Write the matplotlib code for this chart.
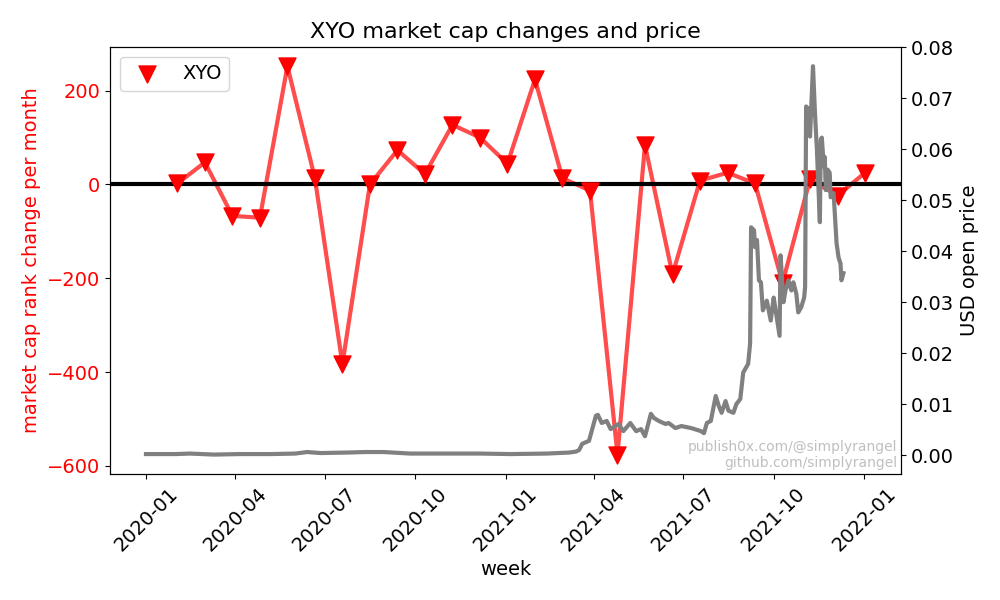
import pandas as pd
import matplotlib.pyplot as plt

# monthly (every 4 weeks) market cap rank change
rank_weeks = pd.date_range('2020-02-02', periods=26, freq='28D')
rank_change = [2, 47, -67, -71, 252, 13, -383, 0, 73, 22, 127, 100, 44,
               224, 13, -13, -576, 84, -192, 8, 25, 2, -210, 11, -24, 25]

# USD open price
price_dates = [
    '2020-01-01', '2020-01-31', '2020-02-15', '2020-03-10', '2020-04-06',
    '2020-05-07', '2020-06-01', '2020-06-13', '2020-06-27', '2020-07-24',
    '2020-08-11', '2020-08-30', '2020-09-26', '2020-10-26', '2020-12-06',
    '2021-01-06', '2021-02-12', '2021-03-07', '2021-03-14', '2021-03-17',
    '2021-03-20', '2021-03-27', '2021-04-03', '2021-04-05', '2021-04-09',
    '2021-04-14', '2021-04-18', '2021-04-26', '2021-05-01', '2021-05-08',
    '2021-05-14', '2021-05-19', '2021-05-23', '2021-05-29', '2021-06-01',
    '2021-06-06', '2021-06-13', '2021-06-16', '2021-06-23', '2021-06-29',
    '2021-07-09', '2021-07-19', '2021-07-22', '2021-07-25', '2021-07-29',
    '2021-08-03', '2021-08-06', '2021-08-09', '2021-08-13', '2021-08-16',
    '2021-08-21', '2021-08-24', '2021-08-28', '2021-08-31', '2021-09-05',
    '2021-09-07', '2021-09-08', '2021-09-11', '2021-09-12', '2021-09-14',
    '2021-09-16', '2021-09-18', '2021-09-20', '2021-09-24', '2021-09-28',
    '2021-10-01', '2021-10-03', '2021-10-07', '2021-10-08', '2021-10-11',
    '2021-10-13', '2021-10-16', '2021-10-19', '2021-10-21', '2021-10-24',
    '2021-10-26', '2021-10-29', '2021-11-01', '2021-11-02', '2021-11-03',
    '2021-11-06', '2021-11-07', '2021-11-10', '2021-11-12', '2021-11-14',
    '2021-11-17', '2021-11-18', '2021-11-19', '2021-11-21', '2021-11-22',
    '2021-11-23', '2021-11-25', '2021-11-27', '2021-11-28', '2021-12-01',
    '2021-12-04', '2021-12-06', '2021-12-08', '2021-12-09', '2021-12-11',
]
price = [
    0.0002, 0.0002, 0.0003, 0.0001, 0.0002,
    0.0002, 0.0003, 0.0006, 0.0004, 0.0005,
    0.0006, 0.0006, 0.0003, 0.0003, 0.0003,
    0.0002, 0.0003, 0.0005, 0.0007, 0.0010,
    0.0022, 0.0028, 0.0077, 0.0079, 0.0063,
    0.0067, 0.0051, 0.0061, 0.0047, 0.0063,
    0.0047, 0.0051, 0.0037, 0.0081, 0.0073,
    0.0067, 0.0061, 0.0063, 0.0053, 0.0057,
    0.0053, 0.0047, 0.0043, 0.0063, 0.0067,
    0.0116, 0.0097, 0.0083, 0.0106, 0.0087,
    0.0083, 0.0100, 0.0110, 0.0162, 0.0179,
    0.0219, 0.0447, 0.0441, 0.0408, 0.0422,
    0.0343, 0.0339, 0.0284, 0.0303, 0.0264,
    0.0309, 0.0284, 0.0234, 0.0392, 0.0300,
    0.0323, 0.0343, 0.0323, 0.0339, 0.0317,
    0.0280, 0.0290, 0.0309, 0.0330, 0.0684,
    0.0678, 0.0625, 0.0763, 0.0672, 0.0599,
    0.0457, 0.0619, 0.0623, 0.0566, 0.0585,
    0.0520, 0.0560, 0.0554, 0.0506, 0.0514,
    0.0416, 0.0388, 0.0376, 0.0343, 0.0357,
]

fig, ax1 = plt.subplots(figsize=(10, 6))
ax1.plot(rank_weeks, rank_change, color='red', alpha=0.7, linewidth=3)
ax1.scatter(rank_weeks, rank_change, marker='v', color='red', s=150,
            zorder=3, label='XYO')
ax1.axhline(0, color='black', linewidth=3)
ax1.set_xlabel('week', fontsize=14)
ax1.set_ylabel('market cap rank change per month', color='red', fontsize=14)
ax1.tick_params(axis='y', labelcolor='red', labelsize=14)
ax1.tick_params(axis='x', labelsize=14, rotation=45)
ax1.legend(loc='upper left', fontsize=14)

ax2 = ax1.twinx()
ax2.plot(pd.to_datetime(price_dates), price, color='grey', linewidth=3)
ax2.set_ylabel('USD open price', fontsize=14)
ax2.tick_params(axis='y', labelsize=14)

plt.title('XYO market cap changes and price', fontsize=16)
ax2.text(0.995, 0.01, 'publish0x.com/@simplyrangel\ngithub.com/simplyrangel',
         transform=ax2.transAxes, ha='right', va='bottom', fontsize=10,
         color='grey', alpha=0.5)
plt.subplots_adjust(left=0.11, right=0.901, top=0.922, bottom=0.21)
plt.savefig('out.png', dpi=100)
